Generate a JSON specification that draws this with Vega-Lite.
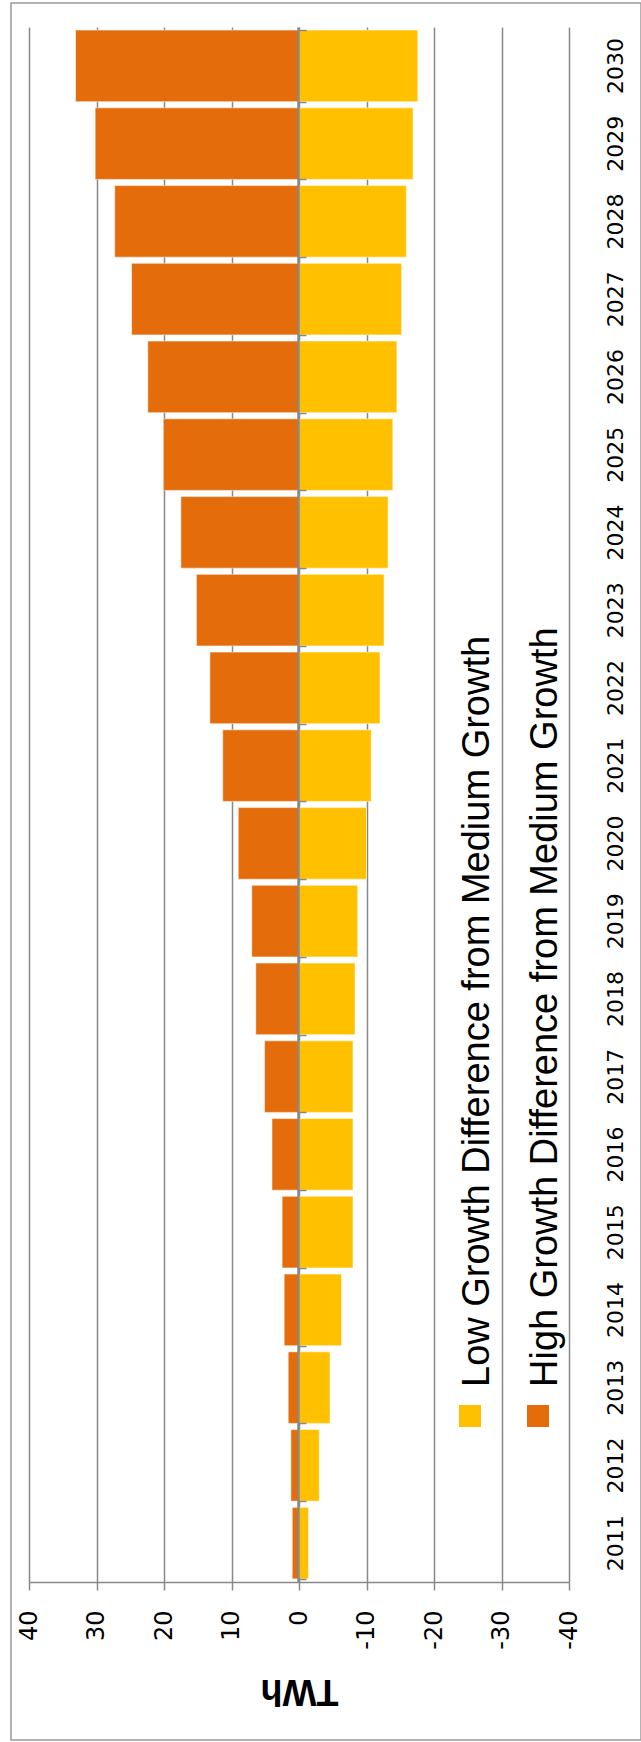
{
  "$schema": "https://vega.github.io/schema/vega-lite/v6.json",
  "width": 630,
  "height": 1737,
  "autosize": {"type": "none"},
  "padding": {"left": 11, "top": 3, "right": 0, "bottom": 2},
  "background": "white",
  "config": {
    "view": {"stroke": "#9a9a9a", "strokeWidth": 1.5},
    "style": {"guide-label": {"angle": -90, "dx": 29}}
  },
  "data": {
    "values": [
      {"year": "2011", "series": "High Growth Difference from Medium Growth", "value": 1.0},
      {"year": "2012", "series": "High Growth Difference from Medium Growth", "value": 1.2},
      {"year": "2013", "series": "High Growth Difference from Medium Growth", "value": 1.6},
      {"year": "2014", "series": "High Growth Difference from Medium Growth", "value": 2.2},
      {"year": "2015", "series": "High Growth Difference from Medium Growth", "value": 2.5},
      {"year": "2016", "series": "High Growth Difference from Medium Growth", "value": 4.0},
      {"year": "2017", "series": "High Growth Difference from Medium Growth", "value": 5.1},
      {"year": "2018", "series": "High Growth Difference from Medium Growth", "value": 6.4},
      {"year": "2019", "series": "High Growth Difference from Medium Growth", "value": 7.0},
      {"year": "2020", "series": "High Growth Difference from Medium Growth", "value": 9.0},
      {"year": "2021", "series": "High Growth Difference from Medium Growth", "value": 11.3},
      {"year": "2022", "series": "High Growth Difference from Medium Growth", "value": 13.2},
      {"year": "2023", "series": "High Growth Difference from Medium Growth", "value": 15.2},
      {"year": "2024", "series": "High Growth Difference from Medium Growth", "value": 17.5},
      {"year": "2025", "series": "High Growth Difference from Medium Growth", "value": 20.1},
      {"year": "2026", "series": "High Growth Difference from Medium Growth", "value": 22.4},
      {"year": "2027", "series": "High Growth Difference from Medium Growth", "value": 24.8},
      {"year": "2028", "series": "High Growth Difference from Medium Growth", "value": 27.3},
      {"year": "2029", "series": "High Growth Difference from Medium Growth", "value": 30.2},
      {"year": "2030", "series": "High Growth Difference from Medium Growth", "value": 33.1},
      {"year": "2011", "series": "Low Growth Difference from Medium Growth", "value": -1.4},
      {"year": "2012", "series": "Low Growth Difference from Medium Growth", "value": -3.0},
      {"year": "2013", "series": "Low Growth Difference from Medium Growth", "value": -4.6},
      {"year": "2014", "series": "Low Growth Difference from Medium Growth", "value": -6.3},
      {"year": "2015", "series": "Low Growth Difference from Medium Growth", "value": -8.0},
      {"year": "2016", "series": "Low Growth Difference from Medium Growth", "value": -8.0},
      {"year": "2017", "series": "Low Growth Difference from Medium Growth", "value": -8.0},
      {"year": "2018", "series": "Low Growth Difference from Medium Growth", "value": -8.3},
      {"year": "2019", "series": "Low Growth Difference from Medium Growth", "value": -8.7},
      {"year": "2020", "series": "Low Growth Difference from Medium Growth", "value": -10.0},
      {"year": "2021", "series": "Low Growth Difference from Medium Growth", "value": -10.7},
      {"year": "2022", "series": "Low Growth Difference from Medium Growth", "value": -12.0},
      {"year": "2023", "series": "Low Growth Difference from Medium Growth", "value": -12.6},
      {"year": "2024", "series": "Low Growth Difference from Medium Growth", "value": -13.2},
      {"year": "2025", "series": "Low Growth Difference from Medium Growth", "value": -13.9},
      {"year": "2026", "series": "Low Growth Difference from Medium Growth", "value": -14.5},
      {"year": "2027", "series": "Low Growth Difference from Medium Growth", "value": -15.2},
      {"year": "2028", "series": "Low Growth Difference from Medium Growth", "value": -15.9},
      {"year": "2029", "series": "Low Growth Difference from Medium Growth", "value": -16.9},
      {"year": "2030", "series": "Low Growth Difference from Medium Growth", "value": -17.6}
    ]
  },
  "layer": [
    {
      "mark": {"type": "bar", "stroke": "#ffffff", "strokeWidth": 1, "strokeOpacity": 0.5},
      "encoding": {
        "y": {
          "field": "year",
          "type": "ordinal",
          "sort": "descending",
          "scale": {"range": [24, 1579], "paddingInner": 0.08, "paddingOuter": 0.04},
          "axis": {
            "orient": "right",
            "offset": -72,
            "title": null,
            "domain": false,
            "ticks": false,
            "tickSize": 0,
            "grid": false,
            "labelAngle": 270,
            "labelAlign": "center",
            "labelBaseline": "middle",
            "labelPadding": 46,
            "labelOffset": 29,
            "labelFont": "DejaVu Sans",
            "labelFontSize": 22,
            "labelColor": "#000000"
          }
        },
        "x": {
          "field": "value",
          "type": "quantitative",
          "stack": null,
          "scale": {"domain": [-40, 40], "range": [558, 18], "nice": false, "zero": true},
          "axis": {
            "orient": "top",
            "values": [40, 30, 20, 10, 0, -10, -20, -30, -40],
            "grid": true,
            "gridColor": "#888888",
            "gridWidth": 1.5,
            "domain": false,
            "ticks": false,
            "labels": false,
            "title": null
          }
        },
        "color": {
          "field": "series",
          "type": "nominal",
          "scale": {
            "domain": ["Low Growth Difference from Medium Growth", "High Growth Difference from Medium Growth"],
            "range": ["#FFC000", "#E46C0A"]
          },
          "legend": {
            "orient": "none",
            "legendX": 440,
            "legendY": 1394,
            "direction": "horizontal",
            "title": null,
            "padding": 0,
            "symbolType": "square",
            "symbolSize": 484,
            "symbolStrokeWidth": 0,
            "symbolOpacity": 1,
            "columnPadding": 21,
            "labelLimit": 2000,
            "labelOffset": -11,
            "labelAlign": "left",
            "labelBaseline": "middle",
            "labelFont": "Liberation Sans",
            "labelFontSize": 38,
            "labelColor": "#000000"
          }
        }
      }
    },
    {
      "mark": {"type": "rule", "opacity": 0},
      "encoding": {
        "y": {
          "field": "year",
          "type": "ordinal",
          "sort": "descending",
          "axis": {
            "orient": "left",
            "offset": -287,
            "title": null,
            "labels": false,
            "grid": false,
            "domain": true,
            "domainColor": "#888888",
            "domainWidth": 2.5,
            "ticks": true,
            "tickBand": "extent",
            "tickSize": -8,
            "tickColor": "#888888",
            "tickWidth": 1.5,
            "zindex": 1
          }
        },
        "x": {
          "datum": 0,
          "type": "quantitative",
          "axis": {
            "orient": "bottom",
            "offset": -158,
            "values": [40, 30, 20, 10, 0, -10, -20, -30, -40],
            "labelExpr": "'' + datum.value",
            "grid": false,
            "domainColor": "#888888",
            "domainWidth": 1.5,
            "tickColor": "#888888",
            "tickWidth": 1.5,
            "tickSize": 8,
            "labelAngle": 270,
            "labelAlign": "right",
            "labelBaseline": "middle",
            "labelPadding": 49,
            "labelFont": "DejaVu Sans",
            "labelFontSize": 24,
            "labelColor": "#000000",
            "labelFlush": false,
            "labelOverlap": false,
            "title": "TWh",
            "titleAngle": 180,
            "titleFont": "Liberation Sans",
            "titleFontSize": 36,
            "titleFontWeight": "bold",
            "titleColor": "#000000",
            "titleBaseline": "middle",
            "titleAlign": "center",
            "titleY": 108
          }
        }
      }
    }
  ],
  "resolve": {"axis": {"x": "independent", "y": "independent"}}
}
